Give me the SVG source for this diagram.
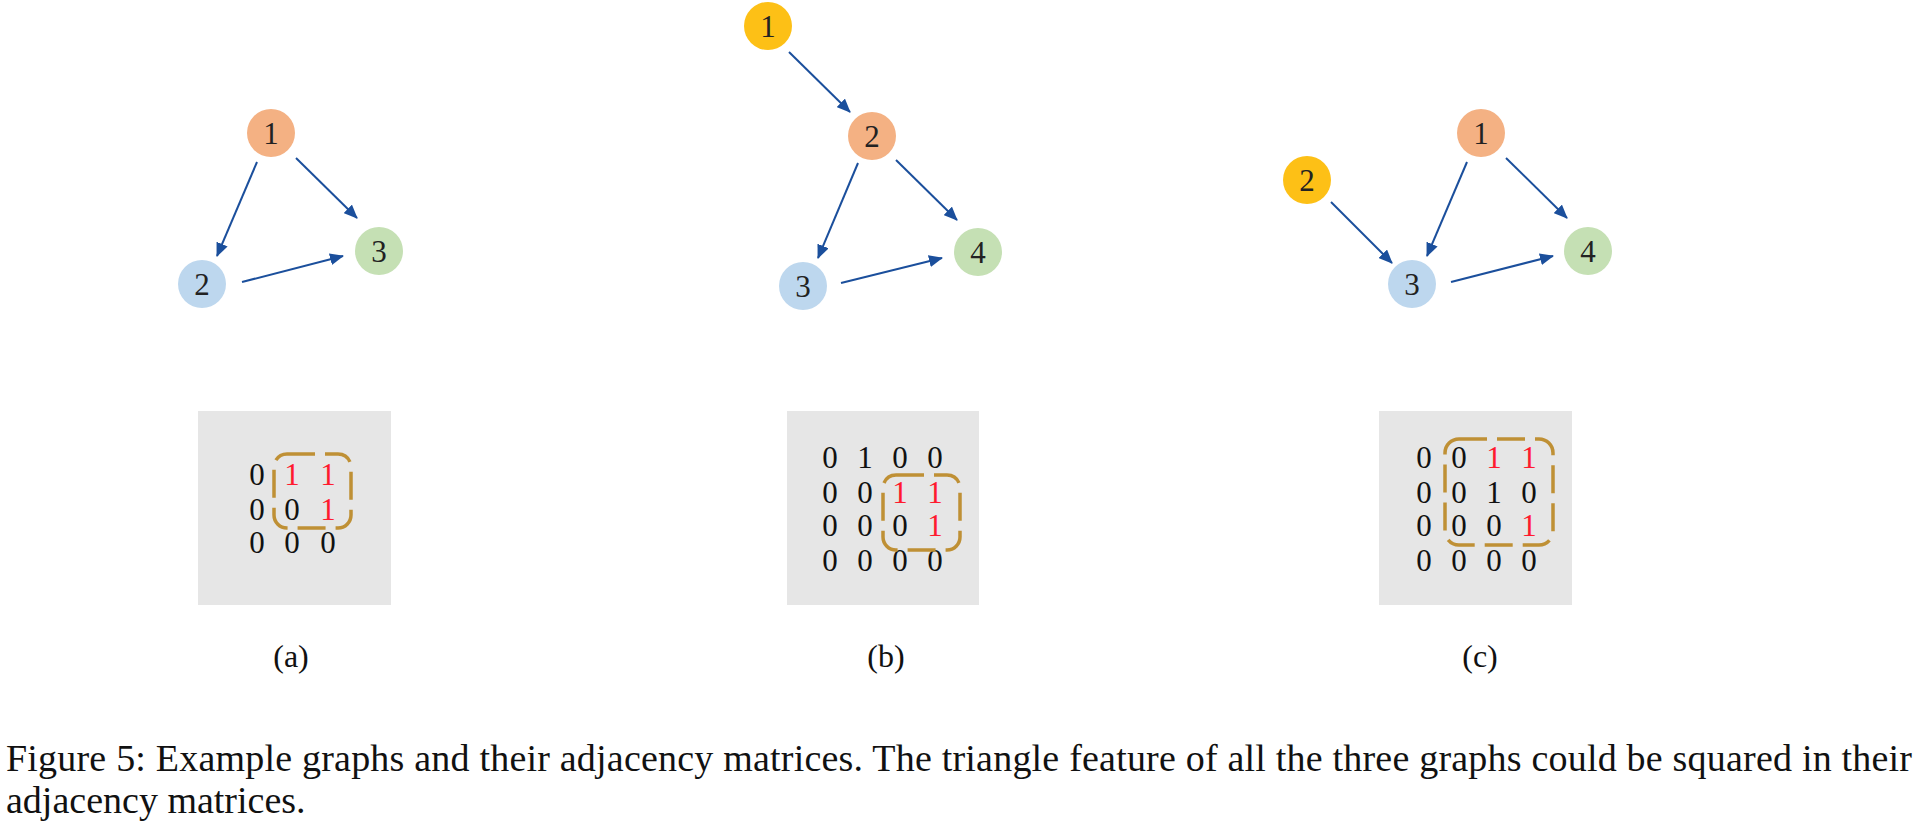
<svg xmlns="http://www.w3.org/2000/svg" width="1918" height="826" viewBox="0 0 1918 826">
<style>
.nl{font-family:"Liberation Serif","Times New Roman",serif;font-size:31px;fill:#222;text-anchor:middle}
.m{font-family:"Liberation Serif","Times New Roman",serif;font-size:31px;fill:#111;text-anchor:middle}
.r{fill:#ff1a2e}
.lab{font-family:"Liberation Serif","Times New Roman",serif;font-size:32px;fill:#111;text-anchor:middle}
.cap{font-family:"Liberation Serif","Times New Roman",serif;font-size:38px;fill:#111}
.o{fill:#f4b183}.b{fill:#bdd7ee}.g{fill:#c5e0b4}.y{fill:#fdc016}
.box{fill:#e6e6e6}
.dash{fill:none;stroke:#bf9035;stroke-width:3.5;stroke-dasharray:28 10}
.e{stroke:#1b4f9c;stroke-width:2;fill:none;marker-end:url(#ah)}
</style>
<defs>
<marker id="ah" markerUnits="userSpaceOnUse" markerWidth="14" markerHeight="12" refX="13" refY="6" orient="auto">
<path d="M0,0 L14,6 L0,12 Z" fill="#1b4f9c"/>
</marker>
</defs>
<rect width="1918" height="826" fill="#fff"/>

<g id="connectors">
<line class="e" x1="257" y1="162" x2="217" y2="256"/>
<line class="e" x1="296" y1="158" x2="357" y2="218"/>
<line class="e" x1="242" y1="282" x2="343" y2="256"/>

<line class="e" x1="789" y1="52" x2="850" y2="112"/>
<line class="e" x1="858" y1="163" x2="818" y2="258"/>
<line class="e" x1="896" y1="160" x2="957" y2="220"/>
<line class="e" x1="841" y1="283" x2="942" y2="258"/>

<line class="e" x1="1331" y1="202" x2="1392" y2="263"/>
<line class="e" x1="1467" y1="162" x2="1427" y2="256"/>
<line class="e" x1="1506" y1="158" x2="1567" y2="218"/>
<line class="e" x1="1451" y1="282" x2="1553" y2="256"/>
</g>

<g id="a-n1"><circle class="o" cx="271" cy="133" r="24"/><text class="nl" x="271" y="144">1</text></g>
<g id="a-n2"><circle class="b" cx="202" cy="284" r="24"/><text class="nl" x="202" y="295">2</text></g>
<g id="a-n3"><circle class="g" cx="379" cy="251" r="24"/><text class="nl" x="379" y="262">3</text></g>

<g id="b-n1"><circle class="y" cx="768" cy="26" r="24"/><text class="nl" x="768" y="37">1</text></g>
<g id="b-n2"><circle class="o" cx="872" cy="136" r="24"/><text class="nl" x="872" y="147">2</text></g>
<g id="b-n3"><circle class="b" cx="803" cy="286" r="24"/><text class="nl" x="803" y="297">3</text></g>
<g id="b-n4"><circle class="g" cx="978" cy="252" r="24"/><text class="nl" x="978" y="263">4</text></g>

<g id="c-n1"><circle class="o" cx="1481" cy="133" r="24"/><text class="nl" x="1481" y="144">1</text></g>
<g id="c-n2"><circle class="y" cx="1307" cy="180" r="24"/><text class="nl" x="1307" y="191">2</text></g>
<g id="c-n3"><circle class="b" cx="1412" cy="284" r="24"/><text class="nl" x="1412" y="295">3</text></g>
<g id="c-n4"><circle class="g" cx="1588" cy="251" r="24"/><text class="nl" x="1588" y="262">4</text></g>

<g id="matrix-a">
<rect class="box" x="198" y="411" width="193" height="194"/>
<text class="m" x="257" y="485">0</text><text class="m r" x="292" y="485">1</text><text class="m r" x="328" y="485">1</text>
<text class="m" x="257" y="520">0</text><text class="m" x="292" y="520">0</text><text class="m r" x="328" y="520">1</text>
<text class="m" x="257" y="553">0</text><text class="m" x="292" y="553">0</text><text class="m" x="328" y="553">0</text>
<rect class="dash" x="274" y="454" width="77" height="74" rx="13"/>
</g>

<g id="matrix-b">
<rect class="box" x="787" y="411" width="192" height="194"/>
<text class="m" x="830" y="468">0</text><text class="m" x="865" y="468">1</text><text class="m" x="900" y="468">0</text><text class="m" x="935" y="468">0</text>
<text class="m" x="830" y="503">0</text><text class="m" x="865" y="503">0</text><text class="m r" x="900" y="503">1</text><text class="m r" x="935" y="503">1</text>
<text class="m" x="830" y="536">0</text><text class="m" x="865" y="536">0</text><text class="m" x="900" y="536">0</text><text class="m r" x="935" y="536">1</text>
<text class="m" x="830" y="571">0</text><text class="m" x="865" y="571">0</text><text class="m" x="900" y="571">0</text><text class="m" x="935" y="571">0</text>
<rect class="dash" x="883" y="475" width="77" height="75" rx="13"/>
</g>

<g id="matrix-c">
<rect class="box" x="1379" y="411" width="193" height="194"/>
<text class="m" x="1424" y="468">0</text><text class="m" x="1459" y="468">0</text><text class="m r" x="1494" y="468">1</text><text class="m r" x="1529" y="468">1</text>
<text class="m" x="1424" y="503">0</text><text class="m" x="1459" y="503">0</text><text class="m" x="1494" y="503">1</text><text class="m" x="1529" y="503">0</text>
<text class="m" x="1424" y="536">0</text><text class="m" x="1459" y="536">0</text><text class="m" x="1494" y="536">0</text><text class="m r" x="1529" y="536">1</text>
<text class="m" x="1424" y="571">0</text><text class="m" x="1459" y="571">0</text><text class="m" x="1494" y="571">0</text><text class="m" x="1529" y="571">0</text>
<rect class="dash" x="1445" y="439" width="108" height="106" rx="14"/>
</g>

<g id="labels">
<text class="lab" x="291" y="667">(a)</text>
<text class="lab" x="886" y="667">(b)</text>
<text class="lab" x="1480" y="667">(c)</text>
</g>

<g id="caption">
<text class="cap" x="6" y="771" textLength="1906" lengthAdjust="spacing">Figure 5: Example graphs and their adjacency matrices. The triangle feature of all the three graphs could be squared in their</text>
<text class="cap" x="6" y="813">adjacency matrices.</text>
</g>
</svg>
